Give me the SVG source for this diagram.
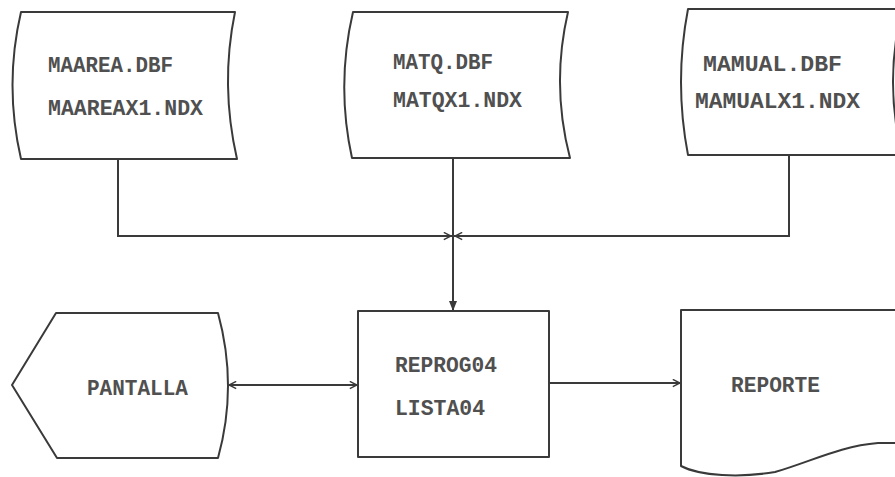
<svg xmlns="http://www.w3.org/2000/svg" width="895" height="477" viewBox="0 0 895 477">
<defs>
<style>
.s{fill:#fff;stroke:#3a3a3a;stroke-width:2;stroke-linejoin:round}
.c{fill:none;stroke:#3a3a3a;stroke-width:2}
.t{font-family:"Liberation Mono","DejaVu Sans Mono",monospace;font-size:22px;font-weight:bold;fill:#505050}
</style>
<marker id="ah" viewBox="0 0 10 10" refX="9" refY="5" markerWidth="9" markerHeight="9" markerUnits="userSpaceOnUse" orient="auto-start-reverse">
<path d="M1,1 L9,5 L1,9" fill="none" stroke="#3a3a3a" stroke-width="1.6"/>
</marker>
<marker id="af" viewBox="0 0 10 10" refX="9" refY="5" markerWidth="10" markerHeight="10" markerUnits="userSpaceOnUse" orient="auto">
<path d="M0,1 L10,5 L0,9 Z" fill="#3a3a3a"/>
</marker>
</defs>
<rect width="895" height="477" fill="#fff"/>
<g id="connectors">
<path class="c" d="M118,159 V236 H452"/>
<path class="c" d="M789,155 V236 H454"/>
<path class="c" d="M118,236 H451" marker-end="url(#ah)"/>
<path class="c" d="M789,236 H455" marker-end="url(#ah)"/>
<path class="c" d="M453,158 V310" marker-end="url(#af)"/>
<path class="c" d="M229,385 H357" marker-start="url(#ah)" marker-end="url(#ah)"/>
<path class="c" d="M549,383 H680" marker-end="url(#ah)"/>
</g>
<g id="maarea">
<path class="s" d="M21,12 H235 Q220,85 237,159 H21 Q4,85 21,12 Z"/>
<text class="t" x="48" y="72" textLength="125" lengthAdjust="spacingAndGlyphs">MAAREA.DBF</text>
<text class="t" x="48" y="115" textLength="155" lengthAdjust="spacingAndGlyphs">MAAREAX1.NDX</text>
</g>
<g id="matq">
<path class="s" d="M353,12 H568 Q551,85 570,158 H352 Q336,85 353,12 Z"/>
<text class="t" x="393" y="69" textLength="100" lengthAdjust="spacingAndGlyphs">MATQ.DBF</text>
<text class="t" x="393" y="107" textLength="129" lengthAdjust="spacingAndGlyphs">MATQX1.NDX</text>
</g>
<g id="mamual">
<path class="s" d="M688,9 H902 Q884,82 902,155 H688 Q674,82 688,9 Z"/>
<text class="t" x="703" y="71" textLength="139" lengthAdjust="spacingAndGlyphs">MAMUAL.DBF</text>
<text class="t" x="695" y="108" textLength="165" lengthAdjust="spacingAndGlyphs">MAMUALX1.NDX</text>
</g>
<g id="pantalla">
<path class="s" d="M56,313 H218 Q238,386 218,458 H57 L12,385 Z"/>
<text class="t" x="87" y="395" textLength="101" lengthAdjust="spacingAndGlyphs">PANTALLA</text>
</g>
<g id="reprog04">
<rect class="s" x="358" y="311" width="191" height="146"/>
<text class="t" x="395" y="372" textLength="102" lengthAdjust="spacingAndGlyphs">REPROG04</text>
<text class="t" x="395" y="415" textLength="90" lengthAdjust="spacingAndGlyphs">LISTA04</text>
</g>
<g id="reporte">
<path class="s" d="M681,310 H902 V443 H878 C840,446 810,462 775,472 C740,478 700,476 681,466 Z"/>
<text class="t" x="731" y="392" textLength="89" lengthAdjust="spacingAndGlyphs">REPORTE</text>
</g>
</svg>
